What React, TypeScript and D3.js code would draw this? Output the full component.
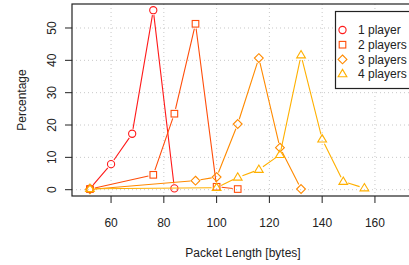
import React from 'react';
import * as d3 from 'd3';

// packet length (bytes) vs percentage, one array per series
const x1 = [52, 60, 68, 76, 84];
const y1 = [0.3, 7.9, 17.3, 55.5, 0.4];
const x2 = [52, 76, 84, 92, 100, 108];
const y2 = [0.2, 4.6, 23.5, 51.3, 0.9, 0.2];
const x3 = [52, 92, 100, 108, 116, 124, 132];
const y3 = [0.1, 2.8, 3.9, 20.3, 40.7, 13.0, 0.2];
const x4 = [52, 100, 108, 116, 124, 132, 140, 148, 156];
const y4 = [0.3, 0.6, 3.8, 6.2, 10.8, 41.6, 15.6, 2.5, 0.5];

const seriesNames = ['1 player', '2 players', '3 players', '4 players'];
const colors = ['#ff1a1a', '#ff4d0a', '#ff8a00', '#ffb000'];
const shapes = ['circle', 'square', 'diamond', 'triangle'];
const xTicks = [60, 80, 100, 120, 140, 160];
const yTicks = [0, 10, 20, 30, 40, 50];

const W = 409;
const H = 265;
const box = { left: 72, right: 414, top: 4, bottom: 196 };
const font = '"Liberation Sans", Arial, sans-serif';

function Marker({ shape, x, y, color }: { shape: string; x: number; y: number; color: string }) {
  const common = { fill: 'none', stroke: color, strokeWidth: 1.1 };
  if (shape === 'circle') return <circle cx={x} cy={y} r={3.6} {...common} />;
  if (shape === 'square') return <rect x={x - 3.3} y={y - 3.3} width={6.6} height={6.6} {...common} />;
  if (shape === 'diamond') {
    const r = 4.4;
    return <path d={`M${x},${y - r}L${x + r},${y}L${x},${y + r}L${x - r},${y}Z`} {...common} />;
  }
  const r = 4.6;
  return (
    <path
      d={`M${x},${y - r}L${x + r * 0.95},${y + r * 0.6}L${x - r * 0.95},${y + r * 0.6}Z`}
      {...common}
    />
  );
}

export default function App() {
  const x = d3.scaleLinear().domain([45.2, 174.8]).range([box.left, box.right]);
  const y = d3.scaleLinear().domain([-1.95, 57.42]).range([box.bottom, box.top]);

  const series = [
    d3.zip(x1, y1),
    d3.zip(x2, y2),
    d3.zip(x3, y3),
    d3.zip(x4, y4),
  ];

  // R type="b": line segments leave a gap around each point
  const gap = 5;
  const segs = (pts: number[][]) => {
    const out: string[] = [];
    for (let i = 0; i < pts.length - 1; i++) {
      const ax = x(pts[i][0]), ay = y(pts[i][1]);
      const bx = x(pts[i + 1][0]), by = y(pts[i + 1][1]);
      const len = Math.hypot(bx - ax, by - ay);
      if (len <= 2 * gap) continue;
      const ux = (bx - ax) / len, uy = (by - ay) / len;
      out.push(`M${ax + ux * gap},${ay + uy * gap}L${bx - ux * gap},${by - uy * gap}`);
    }
    return out.join('');
  };

  const legendRows = [30, 44.7, 59.4, 74];

  return (
    <div style={{ position: 'fixed', left: 0, top: 0 }}>
      <svg width={W} height={H} style={{ display: 'block', background: '#fff' }} fontFamily={font}>
        {/* grid */}
        <g stroke="#c8c8c8" strokeWidth={1} strokeDasharray="1,3">
          {xTicks.map(t => (
            <line key={'gx' + t} x1={x(t)} x2={x(t)} y1={box.top} y2={box.bottom} />
          ))}
          {yTicks.map(t => (
            <line key={'gy' + t} x1={box.left} x2={box.right} y1={y(t)} y2={y(t)} />
          ))}
        </g>

        {/* series */}
        {series.map((pts, i) => (
          <g key={seriesNames[i]}>
            <path d={segs(pts)} fill="none" stroke={colors[i]} strokeWidth={1.1} />
            {pts.map((p, j) => (
              <Marker key={j} shape={shapes[i]} x={x(p[0])} y={y(p[1])} color={colors[i]} />
            ))}
          </g>
        ))}

        {/* box */}
        <rect
          x={box.left}
          y={box.top}
          width={box.right - box.left}
          height={box.bottom - box.top}
          fill="none"
          stroke="#222"
          strokeWidth={1.2}
        />

        {/* x axis */}
        <g stroke="#222" strokeWidth={1}>
          {xTicks.map(t => (
            <line key={'tx' + t} x1={x(t)} x2={x(t)} y1={box.bottom} y2={box.bottom + 7} />
          ))}
        </g>
        {xTicks.map(t => (
          <text key={'lx' + t} x={x(t)} y={227} textAnchor="middle" fontSize={12} fill="#222">
            {t}
          </text>
        ))}
        <text x={243} y={257} textAnchor="middle" fontSize={12} fill="#222">
          Packet Length [bytes]
        </text>

        {/* y axis */}
        <g stroke="#222" strokeWidth={1}>
          {yTicks.map(t => (
            <line key={'ty' + t} x1={box.left - 7} x2={box.left} y1={y(t)} y2={y(t)} />
          ))}
        </g>
        {yTicks.map(t => (
          <text
            key={'ly' + t}
            transform={`translate(56,${y(t)}) rotate(-90)`}
            textAnchor="middle"
            fontSize={12}
            fill="#222"
          >
            {t}
          </text>
        ))}
        <text
          transform={`translate(26,${(box.top + box.bottom) / 2}) rotate(-90)`}
          textAnchor="middle"
          fontSize={12}
          fill="#222"
        >
          Percentage
        </text>

        {/* legend */}
        <rect x={335.5} y={11.5} width={90} height={77} fill="#fff" stroke="#222" strokeWidth={1.2} />
        {seriesNames.map((name, i) => (
          <g key={'lg' + name}>
            <Marker shape={shapes[i]} x={342.5} y={legendRows[i]} color={colors[i]} />
            <text x={358} y={legendRows[i]} dy="0.35em" fontSize={12} fill="#222">
              {name}
            </text>
          </g>
        ))}
      </svg>
    </div>
  );
}
